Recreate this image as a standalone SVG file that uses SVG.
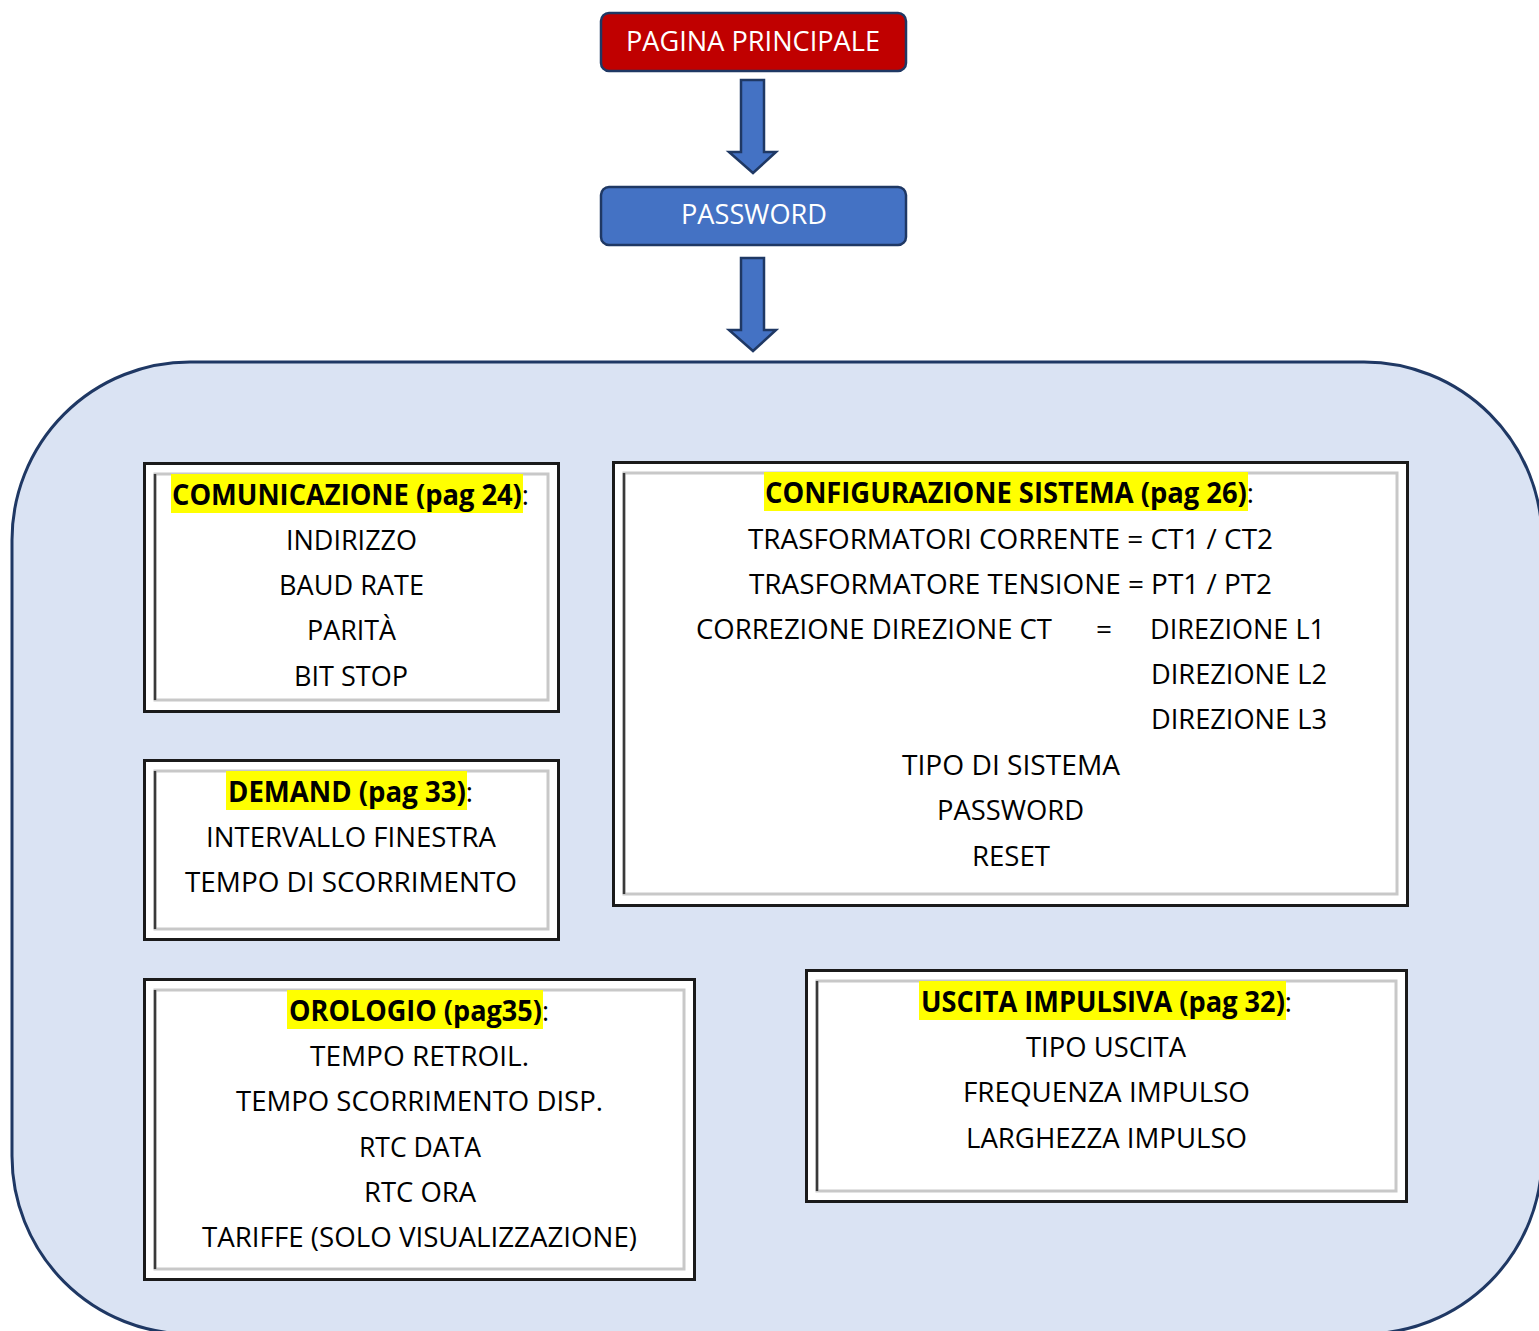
<svg xmlns="http://www.w3.org/2000/svg" width="1539" height="1331" viewBox="0 0 1539 1331">
<style>
text{font-family:"Open Sans","Noto Sans","Liberation Sans",sans-serif;font-size:28px;fill:#000}
.w{fill:#fff}
.b{font-weight:bold}
.n{font-weight:normal}
.hl{fill:#ffff00}
.outer{fill:#fff;stroke:#1a1a1a;stroke-width:3}
.inner{fill:none;stroke:#c8c8c8;stroke-width:3}
.dk{fill:none;stroke:#3a3a3a;stroke-width:2.5}
.arrow{fill:#4472C4;stroke:#1F3864;stroke-width:2.5;stroke-linejoin:miter}
</style>
<rect x="12" y="362" width="1530" height="972" rx="178" fill="#DAE3F3" stroke="#1F3864" stroke-width="3"/>
<g id="connectors">
<path class="arrow" d="M741 80 H764 V152 H776 L753 173 L729 152 H741 Z"/>
<path class="arrow" d="M741 258 H764 V330 H776 L753 351 L729 330 H741 Z"/>
</g>
<g id="pagina-principale">
<rect x="601" y="13" width="305" height="58" rx="8" fill="#C00000" stroke="#1F3864" stroke-width="2.5"/>
<text class="w" x="626" y="51" textLength="254" lengthAdjust="spacingAndGlyphs">PAGINA PRINCIPALE</text>
</g>
<g id="password">
<rect x="601" y="187" width="305" height="58" rx="8" fill="#4472C4" stroke="#1F3864" stroke-width="2.5"/>
<text class="w" x="681" y="224" textLength="146" lengthAdjust="spacingAndGlyphs">PASSWORD</text>
</g>
<g id="comunicazione">
<rect class="outer" x="144.5" y="463.5" width="414" height="248"/>
<rect class="inner" x="155" y="474" width="393" height="226"/>
<path class="dk" d="M155 700 V474"/>
<rect class="hl" x="171" y="474" width="352" height="39"/>
<text class="b" x="172" y="505" textLength="357" lengthAdjust="spacingAndGlyphs">COMUNICAZIONE (pag 24)<tspan class="n">:</tspan></text>
<text x="286" y="550" textLength="131" lengthAdjust="spacingAndGlyphs">INDIRIZZO</text>
<text x="279" y="595" textLength="145" lengthAdjust="spacingAndGlyphs">BAUD RATE</text>
<text x="307" y="640" textLength="89" lengthAdjust="spacingAndGlyphs">PARITÀ</text>
<text x="294" y="686" textLength="114" lengthAdjust="spacingAndGlyphs">BIT STOP</text>
</g>
<g id="demand">
<rect class="outer" x="144.5" y="760.5" width="414" height="179"/>
<rect class="inner" x="155" y="771" width="393" height="158"/>
<path class="dk" d="M155 929 V771"/>
<rect class="hl" x="226" y="771" width="241" height="39"/>
<text class="b" x="228" y="802" textLength="245" lengthAdjust="spacingAndGlyphs">DEMAND (pag 33)<tspan class="n">:</tspan></text>
<text x="206" y="847" textLength="290" lengthAdjust="spacingAndGlyphs">INTERVALLO FINESTRA</text>
<text x="185" y="892" textLength="332" lengthAdjust="spacingAndGlyphs">TEMPO DI SCORRIMENTO</text>
</g>
<g id="orologio">
<rect class="outer" x="144.5" y="979.5" width="550" height="300"/>
<rect class="inner" x="155" y="990" width="529" height="279"/>
<path class="dk" d="M155 1269 V990"/>
<rect class="hl" x="287" y="990" width="256" height="39"/>
<text class="b" x="289" y="1021" textLength="260" lengthAdjust="spacingAndGlyphs">OROLOGIO (pag35)<tspan class="n">:</tspan></text>
<text x="310" y="1066" textLength="219" lengthAdjust="spacingAndGlyphs">TEMPO RETROIL.</text>
<text x="236" y="1111" textLength="367" lengthAdjust="spacingAndGlyphs">TEMPO SCORRIMENTO DISP.</text>
<text x="359" y="1157" textLength="122" lengthAdjust="spacingAndGlyphs">RTC DATA</text>
<text x="364" y="1202" textLength="112" lengthAdjust="spacingAndGlyphs">RTC ORA</text>
<text x="202" y="1247" textLength="435" lengthAdjust="spacingAndGlyphs">TARIFFE (SOLO VISUALIZZAZIONE)</text>
</g>
<g id="configurazione">
<rect class="outer" x="613.5" y="462.5" width="794" height="443"/>
<rect class="inner" x="624" y="473" width="773" height="421"/>
<path class="dk" d="M624 894 V473"/>
<rect class="hl" x="764" y="472" width="484" height="39"/>
<text class="b" x="765" y="503" textLength="489" lengthAdjust="spacingAndGlyphs">CONFIGURAZIONE SISTEMA (pag 26)<tspan class="n">:</tspan></text>
<text x="748" y="549" textLength="525" lengthAdjust="spacingAndGlyphs">TRASFORMATORI CORRENTE = CT1 / CT2</text>
<text x="749" y="594" textLength="523" lengthAdjust="spacingAndGlyphs">TRASFORMATORE TENSIONE = PT1 / PT2</text>
<text x="696" y="639" textLength="356" lengthAdjust="spacingAndGlyphs">CORREZIONE DIREZIONE CT</text>
<text x="1096" y="639">=</text>
<text x="1150" y="639" textLength="175" lengthAdjust="spacingAndGlyphs">DIREZIONE L1</text>
<text x="1151" y="684" textLength="176" lengthAdjust="spacingAndGlyphs">DIREZIONE L2</text>
<text x="1151" y="729" textLength="176" lengthAdjust="spacingAndGlyphs">DIREZIONE L3</text>
<text x="902" y="775" textLength="218" lengthAdjust="spacingAndGlyphs">TIPO DI SISTEMA</text>
<text x="937" y="820" textLength="147" lengthAdjust="spacingAndGlyphs">PASSWORD</text>
<text x="972" y="866" textLength="78" lengthAdjust="spacingAndGlyphs">RESET</text>
</g>
<g id="uscita-impulsiva">
<rect class="outer" x="806.5" y="970.5" width="600" height="231"/>
<rect class="inner" x="817" y="981" width="579" height="210"/>
<path class="dk" d="M817 1191 V981"/>
<rect class="hl" x="919" y="981" width="367" height="39"/>
<text class="b" x="921" y="1012" textLength="371" lengthAdjust="spacingAndGlyphs">USCITA IMPULSIVA (pag 32)<tspan class="n">:</tspan></text>
<text x="1026" y="1057" textLength="160" lengthAdjust="spacingAndGlyphs">TIPO USCITA</text>
<text x="963" y="1102" textLength="287" lengthAdjust="spacingAndGlyphs">FREQUENZA IMPULSO</text>
<text x="966" y="1148" textLength="281" lengthAdjust="spacingAndGlyphs">LARGHEZZA IMPULSO</text>
</g>
</svg>
